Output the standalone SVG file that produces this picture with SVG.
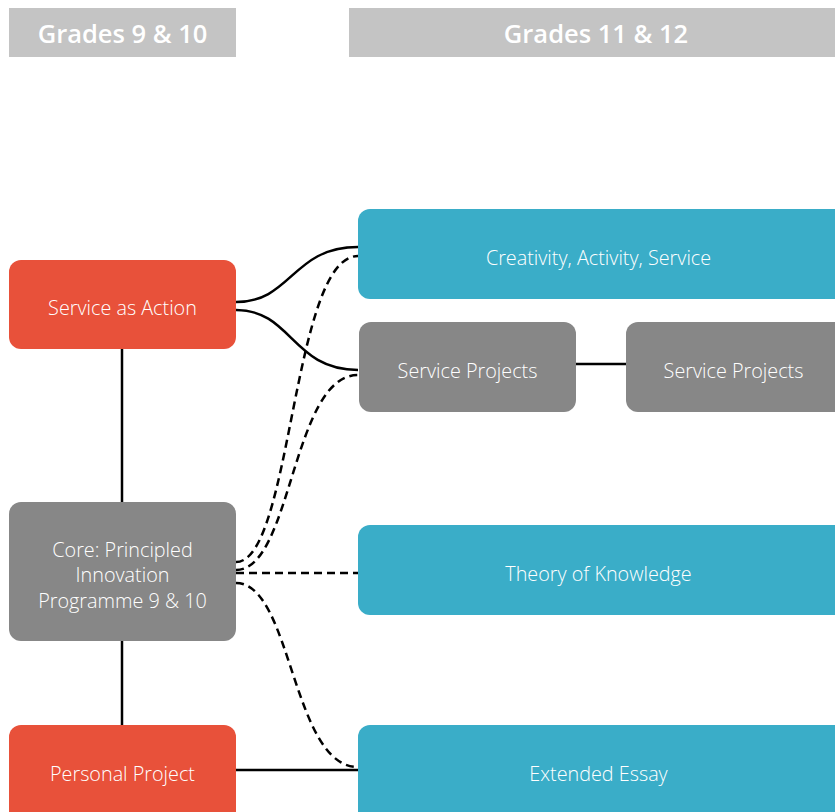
<svg xmlns="http://www.w3.org/2000/svg" width="835" height="812" viewBox="0 0 835 812">
<style>
.hdr{fill:#c4c4c4}
.hdrt{fill:#fff;font-family:"Open Sans","Noto Sans",sans-serif;font-size:25.5px;font-weight:600;text-anchor:middle}
.or{fill:#e8513a}
.gr{fill:#878787}
.tl{fill:#3aadc8}
.t{fill:#fff;font-family:"Open Sans","Noto Sans",sans-serif;font-size:19.8px;font-weight:300;text-anchor:middle;dominant-baseline:central}
.s{fill:none;stroke:#000;stroke-width:2.5}
.d{fill:none;stroke:#000;stroke-width:2.5;stroke-dasharray:8 5}
</style>
<rect width="835" height="812" fill="#fff"/>
<g id="header-left"><rect class="hdr" x="9" y="8" width="227" height="49"/><text class="hdrt" x="122.5" y="43">Grades 9 &amp; 10</text></g>
<g id="header-right"><rect class="hdr" x="349" y="8" width="486" height="49"/><text class="hdrt" x="596" y="43">Grades 11 &amp; 12</text></g>
<g id="connectors">
<path class="s" d="M122,349 V502"/>
<path class="s" d="M122,641 V725"/>
<path class="s" d="M236,302 C292,302 292,247 358,247"/>
<path class="s" d="M236,310 C292,310 292,370 358,370"/>
<path class="d" d="M236,562 C292,562 292,256 358,256"/>
<path class="d" d="M236,570 C292,570 292,375 358,375"/>
<path class="d" d="M236,573 H358"/>
<path class="d" d="M236,583 C292,583 292,767 358,767"/>
<path class="s" d="M236,770 H358"/>
<path class="s" d="M576,364 H626"/>
</g>
<g id="service-as-action"><rect class="or" x="9" y="260" width="227" height="89" rx="12"/><text class="t" x="122.5" y="307">Service as Action</text></g>
<g id="core"><rect class="gr" x="9" y="502" width="227" height="139" rx="12"/><text class="t" x="122.5" y="549">Core: Principled</text><text class="t" x="122.5" y="574">Innovation</text><text class="t" x="122.5" y="600">Programme 9 &amp; 10</text></g>
<g id="personal-project"><rect class="or" x="9" y="725" width="227" height="100" rx="12"/><text class="t" x="122.5" y="773">Personal Project</text></g>
<g id="cas"><rect class="tl" x="358" y="209" width="490" height="90" rx="12"/><text class="t" x="598.5" y="257">Creativity, Activity, Service</text></g>
<g id="service-projects-1"><rect class="gr" x="359" y="322" width="217" height="90" rx="12"/><text class="t" x="467.5" y="370">Service Projects</text></g>
<g id="service-projects-2"><rect class="gr" x="626" y="322" width="222" height="90" rx="12"/><text class="t" x="733.5" y="370">Service Projects</text></g>
<g id="tok"><rect class="tl" x="358" y="525" width="490" height="90" rx="12"/><text class="t" x="598.5" y="573">Theory of Knowledge</text></g>
<g id="extended-essay"><rect class="tl" x="358" y="725" width="490" height="100" rx="12"/><text class="t" x="598.5" y="773">Extended Essay</text></g>
</svg>
